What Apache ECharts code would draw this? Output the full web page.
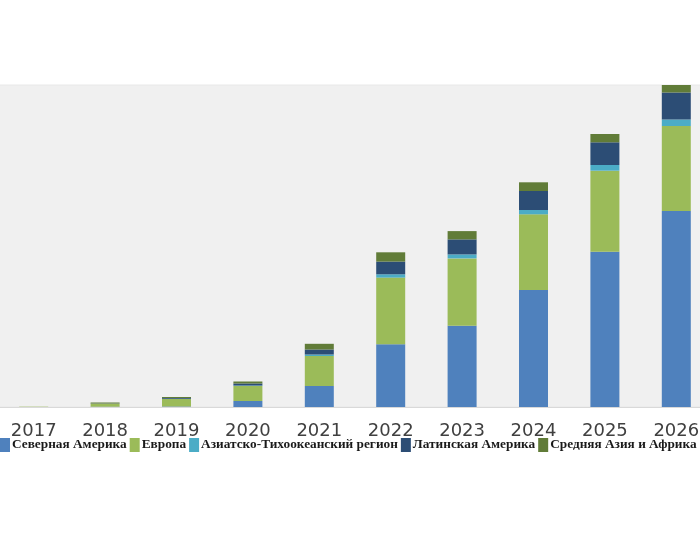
<!DOCTYPE html>
<html>
<head>
<meta charset="utf-8">
<script src="https://cdn.jsdelivr.net/npm/echarts@6/dist/echarts.min.js"></script>
<style>
  html, body { margin: 0; padding: 0; background: #fff; overflow: hidden; }
  #chart { width: 714px; height: 540px; margin-left: -2px; }
</style>
</head>
<body>
<div id="chart"></div>
<script>
var years = ['2017', '2018', '2019', '2020', '2021', '2022', '2023', '2024', '2025', '2026'];

var northAmerica = [0, 0.3, 0.5, 6, 21, 62.7, 81.3, 117, 155.3, 196];
var europe       = [0.3, 3, 7.5, 15, 30, 66.7, 67.3, 75.7, 81, 85];
var asiaPacific  = [0, 0, 0.2, 0.5, 1.5, 3.3, 4, 4.3, 5.7, 6.5];
var latinAmerica = [0, 0.2, 0.8, 2, 5, 12.7, 15, 19, 22.7, 27];
var centralAsia  = [0, 1, 1, 2, 5.7, 9.3, 8.3, 8.7, 8.3, 8];

var names = ['Северная Америка', 'Европа', 'Азиатско-Тихоокеанский регион', 'Латинская Америка', 'Средняя Азия и Африка'];
var colors = ['#4F81BD', '#9BBB59', '#4BACC6', '#2C4D75', '#617C38'];

var chart = echarts.init(document.getElementById('chart'), null, {renderer: 'canvas'});

function bar(name, data) {
    return {
        name: name,
        type: 'bar',
        stack: 'total',
        barWidth: 29,
        data: data
    };
}

chart.setOption({
    animation: false,
    color: colors,
    grid: {
        left: 0, top: 85, right: 0, height: 322,
        show: true, backgroundColor: '#f0f0f0', borderColor: '#e8e8e8', borderWidth: 1
    },
    legend: {
        left: 2, top: 438, width: 714, padding: 0,
        itemGap: 3, itemWidth: 10, itemHeight: 14,
        icon: 'rect',
        textStyle: {fontFamily: 'Liberation Serif', fontWeight: 'bold', fontSize: 13.3, color: '#1a1a1a', padding: [0, 0, 0, -3]},
        data: names
    },
    xAxis: {
        type: 'category',
        data: years,
        axisLine: {lineStyle: {color: '#d9d9d9', width: 1}},
        axisTick: {show: false},
        axisLabel: {fontFamily: 'DejaVu Sans', fontSize: 18, color: '#404040', margin: 15}
    },
    yAxis: {
        type: 'value',
        min: 0, max: 322,
        show: false,
        splitLine: {show: false}
    },
    series: [
        bar(names[0], northAmerica),
        bar(names[1], europe),
        bar(names[2], asiaPacific),
        bar(names[3], latinAmerica),
        bar(names[4], centralAsia)
    ]
});
</script>
</body>
</html>
